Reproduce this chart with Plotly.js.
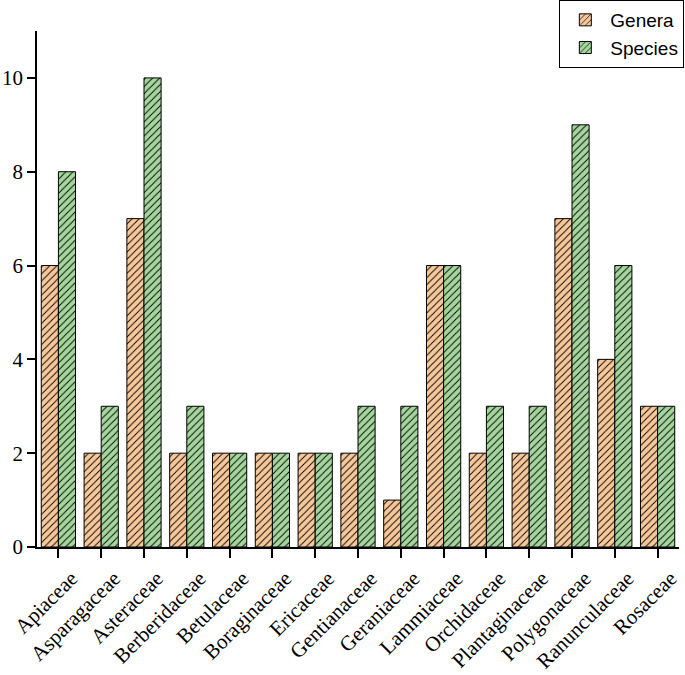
<!DOCTYPE html>
<html><head><meta charset="utf-8">
<script src="https://cdn.plot.ly/plotly-3.0.1.min.js"></script>
<style>body{margin:0;background:#fff}#c{width:685px;height:675px}</style>
</head><body><div id="c"></div>
<script>
const families = ["Apiaceae","Asparagaceae","Asteraceae","Berberidaceae","Betulaceae","Boraginaceae","Ericaceae","Gentianaceae","Geraniaceae","Lammiaceae","Orchidaceae","Plantaginaceae","Polygonaceae","Ranunculaceae","Rosaceae"];
const genera  = [6,2,7,2,2,2,2,2,1,6,2,2,7,4,3];
const species = [8,3,10,3,2,2,2,3,3,6,3,3,9,6,3];
const yTicks = [0,2,4,6,8,10];

const orange = "#f9c89a", green = "#a4d69d";
function tr(name, y, col){
  return {type:"bar", name:name, x:families, y:y,
    marker:{color:col, line:{color:"#000", width:1},
      pattern:{shape:"/", fgcolor:"#000", bgcolor:col, size:5, solidity:0.18, fillmode:"replace"}}};
}
const data = [tr("Genera", genera, orange), tr("Species", species, green)];
const layout = {
  width:685, height:675,
  margin:{l:37, r:6, t:31, b:128, autoexpand:false},
  paper_bgcolor:"#fff", plot_bgcolor:"#fff",
  barmode:"group", bargap:0.2, bargroupgap:0,
  font:{family:"Liberation Serif, Times New Roman, serif", size:21, color:"#000"},
  xaxis:{range:[-0.5,14.5], showline:true, linecolor:"#000", linewidth:1.5, automargin:false,
    ticks:"outside", ticklen:9, tickwidth:1.5, tickcolor:"#000",
    tickangle:-45, ticklabelstandoff:0, ticklabelshift:13, showgrid:false, zeroline:false,
    tickfont:{size:21}},
  yaxis:{range:[0,11], tickvals:yTicks, showline:true, linecolor:"#000", linewidth:1.5, automargin:false,
    ticks:"outside", ticklen:8, tickwidth:1.5, tickcolor:"#000",
    showgrid:false, zeroline:false, tickfont:{size:21}},
  legend:{xref:"container", yref:"container", x:0.999, xanchor:"right", y:1, yanchor:"top",
    bordercolor:"#000", borderwidth:1, bgcolor:"#fff",
    font:{family:"Liberation Sans, Arial, sans-serif", size:19},
    tracegroupgap:0, itemwidth:40}
};
Plotly.newPlot("c", data, layout, {displayModeBar:false});
</script></body></html>
